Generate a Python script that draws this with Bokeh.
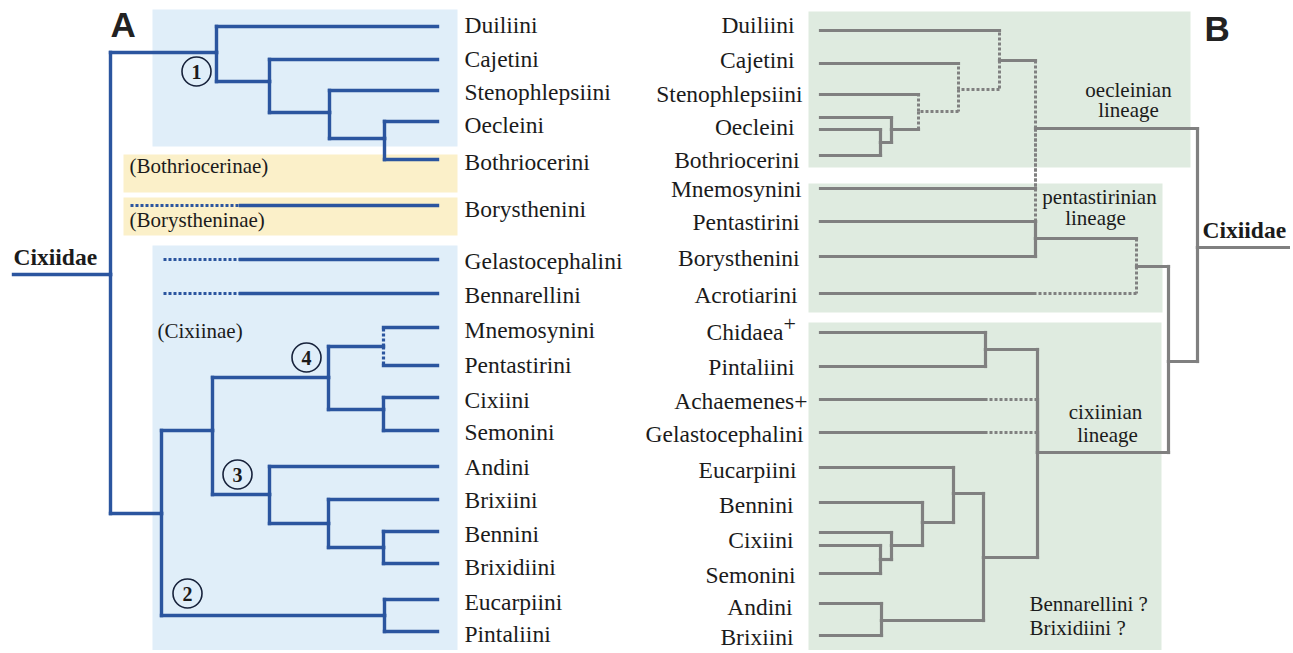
from bokeh.plotting import figure
from bokeh.models import Range1d, ColumnDataSource
from bokeh.embed import file_html
from bokeh.resources import INLINE
from bokeh.core.properties import value

# ---------------- DATA ----------------
# Panel A : tree of Cixiidae tribes (root on the left, tips on the right)
A_tip_names = ["Duiliini", "Cajetini", "Stenophlepsiini", "Oecleini", "Bothriocerini",
               "Mnemosynini", "Pentastirini", "Cixiini", "Semonini", "Andini", "Brixiini",
               "Bennini", "Brixidiini", "Eucarpiini", "Pintaliini"]
A_tip_y = [26, 59, 90, 121, 159, 327, 365, 397, 430, 466, 499, 531, 563, 599, 631]
A_tip_x = 437

A_node_names = ["rootA", "n1", "n1b", "n1c", "n1d", "n2", "n2b", "n3a", "n4", "n4a", "n4b",
                "n3", "n3b", "n3c"]
A_node_x = [110, 216, 269, 329, 384, 161, 384, 212, 328, 383, 383, 269, 328, 383]
A_node_y = [274, 52, 81, 112, 138, 513, 615, 430, 377, 346, 409, 494, 523, 547]
A_root_stem_x = 13

# edges: parent, child, horizontal style, vertical style
A_edges = [
    ("rootA", "n1", "s", "s"), ("rootA", "n2", "s", "s"),
    ("n1", "Duiliini", "s", "s"), ("n1", "n1b", "s", "s"),
    ("n1b", "Cajetini", "s", "s"), ("n1b", "n1c", "s", "s"),
    ("n1c", "Stenophlepsiini", "s", "s"), ("n1c", "n1d", "s", "s"),
    ("n1d", "Oecleini", "s", "s"), ("n1d", "Bothriocerini", "s", "s"),
    ("n2", "n3a", "s", "s"), ("n2", "n2b", "s", "s"),
    ("n2b", "Eucarpiini", "s", "s"), ("n2b", "Pintaliini", "s", "s"),
    ("n3a", "n4", "s", "s"), ("n3a", "n3", "s", "s"),
    ("n4", "n4a", "s", "s"), ("n4", "n4b", "s", "s"),
    ("n4a", "Mnemosynini", "s", "d"), ("n4a", "Pentastirini", "s", "d"),
    ("n4b", "Cixiini", "s", "s"), ("n4b", "Semonini", "s", "s"),
    ("n3", "Andini", "s", "s"), ("n3", "n3b", "s", "s"),
    ("n3b", "Brixiini", "s", "s"), ("n3b", "n3c", "s", "s"),
    ("n3c", "Bennini", "s", "s"), ("n3c", "Brixidiini", "s", "s"),
]

# unplaced tribes (dotted stem then solid)
A_loose_names = ["Borysthenini", "Gelastocephalini", "Bennarellini"]
A_loose_y = [205, 259, 293]
A_loose_dot_start = [130, 163, 163]
A_loose_solid_start = [240, 240, 240]

A_labels = ["Duiliini", "Cajetini", "Stenophlepsiini", "Oecleini", "Bothriocerini",
            "Borysthenini", "Gelastocephalini", "Bennarellini", "Mnemosynini", "Pentastirini",
            "Cixiini", "Semonini", "Andini", "Brixiini", "Bennini", "Brixidiini",
            "Eucarpiini", "Pintaliini"]
A_label_y = [33, 67, 100, 133, 170, 217, 269, 303, 338, 373, 408, 440, 475, 508, 542, 575, 610, 642]

A_groups = ["(Bothriocerinae)", "(Borystheninae)", "(Cixiinae)"]
A_group_x = [129, 129, 157]
A_group_y = [173, 227, 338]

A_circle_nums = ["1", "2", "3", "4"]
A_circle_x = [196, 187, 237, 306]
A_circle_y = [71, 593, 474, 357]

# Panel B : tree (tips on the left, root on the right)
B_tip_names = ["Duiliini", "Cajetini", "Stenophlepsiini", "Oecleini_a", "Oecleini_b",
               "Bothriocerini", "Mnemosynini", "Pentastirini", "Borysthenini", "Acrotiarini",
               "Chidaea", "Pintaliini", "Achaemenes", "Gelastocephalini", "Eucarpiini",
               "Bennini", "Cixiini_a", "Cixiini_b", "Semonini", "Andini", "Brixiini"]
B_tip_y = [30, 63, 94, 117, 129, 155, 188, 221, 256, 293, 332, 366, 399, 432, 467, 502,
           532, 545, 573, 603, 635]
B_tip_x = 820

B_node_names = ["oe1", "oe2", "st", "ca", "du", "oecl", "pb", "acro", "pent", "cp", "ach",
                "gel", "sc", "cx", "bn", "eu", "ab", "rest", "cix", "r2", "rootB"]
B_node_x = [880, 891, 918, 958, 999, 1035, 1035, 1033, 1136, 985, 985, 985, 880, 891, 922,
            953, 881, 983, 1037, 1168, 1197]
B_node_y = [142, 129, 111, 89, 60, 128, 238, 293, 266, 349, 399, 432, 559, 545, 522, 493,
            620, 557, 452, 361, 247]
B_root_stem_x = 1290

B_edges = [
    ("oe1", "Oecleini_b", "s", "s"), ("oe1", "Bothriocerini", "s", "s"),
    ("oe2", "Oecleini_a", "s", "s"), ("oe2", "oe1", "s", "s"),
    ("st", "Stenophlepsiini", "s", "d"), ("st", "oe2", "s", "d"),
    ("ca", "Cajetini", "s", "d"), ("ca", "st", "d", "d"),
    ("du", "Duiliini", "s", "d"), ("du", "ca", "d", "d"),
    ("oecl", "du", "s", "d"), ("oecl", "Mnemosynini", "s", "d"), ("oecl", "Pentastirini", "s", "d"),
    ("pb", "Pentastirini", "s", "s"), ("pb", "Borysthenini", "s", "s"),
    ("acro", "Acrotiarini", "s", "s"),
    ("pent", "pb", "s", "d"), ("pent", "acro", "d", "d"),
    ("cp", "Chidaea", "s", "s"), ("cp", "Pintaliini", "s", "s"),
    ("ach", "Achaemenes", "s", "s"), ("gel", "Gelastocephalini", "s", "s"),
    ("sc", "Cixiini_b", "s", "s"), ("sc", "Semonini", "s", "s"),
    ("cx", "Cixiini_a", "s", "s"), ("cx", "sc", "s", "s"),
    ("bn", "Bennini", "s", "s"), ("bn", "cx", "s", "s"),
    ("eu", "Eucarpiini", "s", "s"), ("eu", "bn", "s", "s"),
    ("ab", "Andini", "s", "s"), ("ab", "Brixiini", "s", "s"),
    ("rest", "eu", "s", "s"), ("rest", "ab", "s", "s"),
    ("cix", "cp", "s", "s"), ("cix", "ach", "d", "s"), ("cix", "gel", "d", "s"),
    ("cix", "rest", "s", "s"),
    ("r2", "pent", "s", "s"), ("r2", "cix", "s", "s"),
    ("rootB", "oecl", "s", "s"), ("rootB", "r2", "s", "s"),
]

B_labels = ["Duiliini", "Cajetini", "Stenophlepsiini", "Oecleini", "Bothriocerini",
            "Mnemosynini", "Pentastirini", "Borysthenini", "Acrotiarini", "Chidaea",
            "Pintaliini", "Achaemenes+", "Gelastocephalini", "Eucarpiini", "Bennini",
            "Cixiini", "Semonini", "Andini", "Brixiini"]
B_label_y = [33, 68, 102, 135, 168, 197, 230, 266, 303, 340, 375, 409, 442, 478, 513, 548,
             583, 615, 645]
B_label_right = [794, 794, 802, 794, 799, 801, 799, 799, 797, 783, 794, 807, 803, 796, 793,
                 793, 795, 792, 793]

# ---------------- STYLE ----------------
BLUE = "#2b559f"
GREY = "#808080"
INK = "#1b1b1b"
SERIF = value("Liberation Serif")
SANS = value("Liberation Sans")
W, H = 1290, 650
LIFT = 0.37  # baseline correction (em) for the svg text placement

p = figure(width=W, height=H, x_range=Range1d(0, W), y_range=Range1d(H, 0),
           output_backend="svg", toolbar_location=None, min_border=0,
           x_axis_location=None, y_axis_location=None, outline_line_color=None,
           background_fill_color="white", border_fill_color="white")
p.grid.visible = False


def label(x, y, text, size, font=SERIF, style="normal", align="left", color=None):
    p.text(x=x, y=y, text=text, text_font=font, text_font_size=f"{size}px",
           text_font_style=style, text_color=color or INK, text_align=align,
           text_baseline="alphabetic", y_offset=-round(LIFT * size))


# background boxes
p.quad(left=[152, 152], right=[457, 457], top=[9, 245], bottom=[146, 660],
       fill_color="#e0eef9", line_color=None)
p.quad(left=[123, 123], right=[457, 457], top=[154, 197], bottom=[192, 235],
       fill_color="#fbf0c9", line_color=None)
p.quad(left=[808, 808, 808], right=[1190, 1162, 1161], top=[11, 183, 322],
       bottom=[167, 312, 660], fill_color="#dfebe0", line_color=None)


def elbow_segments(tip_names, tip_x, tip_y, node_names, node_x, node_y, edges):
    pos = {n: (tip_x, y) for n, y in zip(tip_names, tip_y)}
    pos.update({n: (x, y) for n, x, y in zip(node_names, node_x, node_y)})
    out = {"s": dict(x0=[], y0=[], x1=[], y1=[]), "d": dict(x0=[], y0=[], x1=[], y1=[])}
    for par, ch, hs, vs in edges:
        px, py = pos[par]
        cx, cy = pos[ch]
        if py != cy:
            o = out[vs]
            o["x0"].append(px); o["y0"].append(py); o["x1"].append(px); o["y1"].append(cy)
        if px != cx:
            o = out[hs]
            o["x0"].append(px); o["y0"].append(cy); o["x1"].append(cx); o["y1"].append(cy)
    return out, pos


segA, posA = elbow_segments(A_tip_names, A_tip_x, A_tip_y, A_node_names, A_node_x,
                            A_node_y, A_edges)
segA["s"]["x0"].append(A_root_stem_x); segA["s"]["y0"].append(posA["rootA"][1])
segA["s"]["x1"].append(posA["rootA"][0]); segA["s"]["y1"].append(posA["rootA"][1])
for y, d0, s0 in zip(A_loose_y, A_loose_dot_start, A_loose_solid_start):
    segA["d"]["x0"].append(d0); segA["d"]["y0"].append(y)
    segA["d"]["x1"].append(s0); segA["d"]["y1"].append(y)
    segA["s"]["x0"].append(s0); segA["s"]["y0"].append(y)
    segA["s"]["x1"].append(A_tip_x); segA["s"]["y1"].append(y)

p.segment(source=ColumnDataSource(segA["d"]), x0="x0", y0="y0", x1="x1", y1="y1",
          line_color=BLUE, line_width=3.2, line_dash="3 2", line_cap="butt")
p.segment(source=ColumnDataSource(segA["s"]), x0="x0", y0="y0", x1="x1", y1="y1",
          line_color=BLUE, line_width=3.4, line_cap="square")

segB, posB = elbow_segments(B_tip_names, B_tip_x, B_tip_y, B_node_names, B_node_x,
                            B_node_y, B_edges)
segB["s"]["x0"].append(posB["rootB"][0]); segB["s"]["y0"].append(posB["rootB"][1])
segB["s"]["x1"].append(B_root_stem_x); segB["s"]["y1"].append(posB["rootB"][1])

p.segment(source=ColumnDataSource(segB["d"]), x0="x0", y0="y0", x1="x1", y1="y1",
          line_color=GREY, line_width=3, line_dash="3 2", line_cap="butt")
p.segment(source=ColumnDataSource(segB["s"]), x0="x0", y0="y0", x1="x1", y1="y1",
          line_color=GREY, line_width=3.2, line_cap="square")

# numbered circles
p.scatter(x=A_circle_x, y=A_circle_y, size=29, marker="circle", fill_color=None,
          line_color="#17223b", line_width=1.6)
p.text(x=A_circle_x, y=A_circle_y, text=A_circle_nums, text_font=SERIF,
       text_font_size="20px", text_font_style="bold", text_color=INK,
       text_align="center", text_baseline="middle")

# labels panel A
label([464] * len(A_labels), A_label_y, A_labels, 23.5)
label(A_group_x, A_group_y, A_groups, 21)
label([13], [265], ["Cixiidae"], 23.5, style="bold")

# labels panel B
label(B_label_right, B_label_y, B_labels, 23.5, align="right")
label([783], [331], ["+"], 22)
label([1202], [238], ["Cixiidae"], 23.5, style="bold")
label([1128, 1128, 1099, 1095, 1105, 1107], [97, 117, 204, 225, 419, 442],
      ["oecleinian", "lineage", "pentastirinian", "lineage", "cixiinian", "lineage"], 21,
      align="center")
label([1029, 1029], [611, 635], ["Bennarellini ?", "Brixidiini ?"], 21)

# panel letters
label([110, 1204], [37, 41], ["A", "B"], 35, font=SANS, style="bold", color="#222222")

open("out.html", "w").write(file_html(p, INLINE))
